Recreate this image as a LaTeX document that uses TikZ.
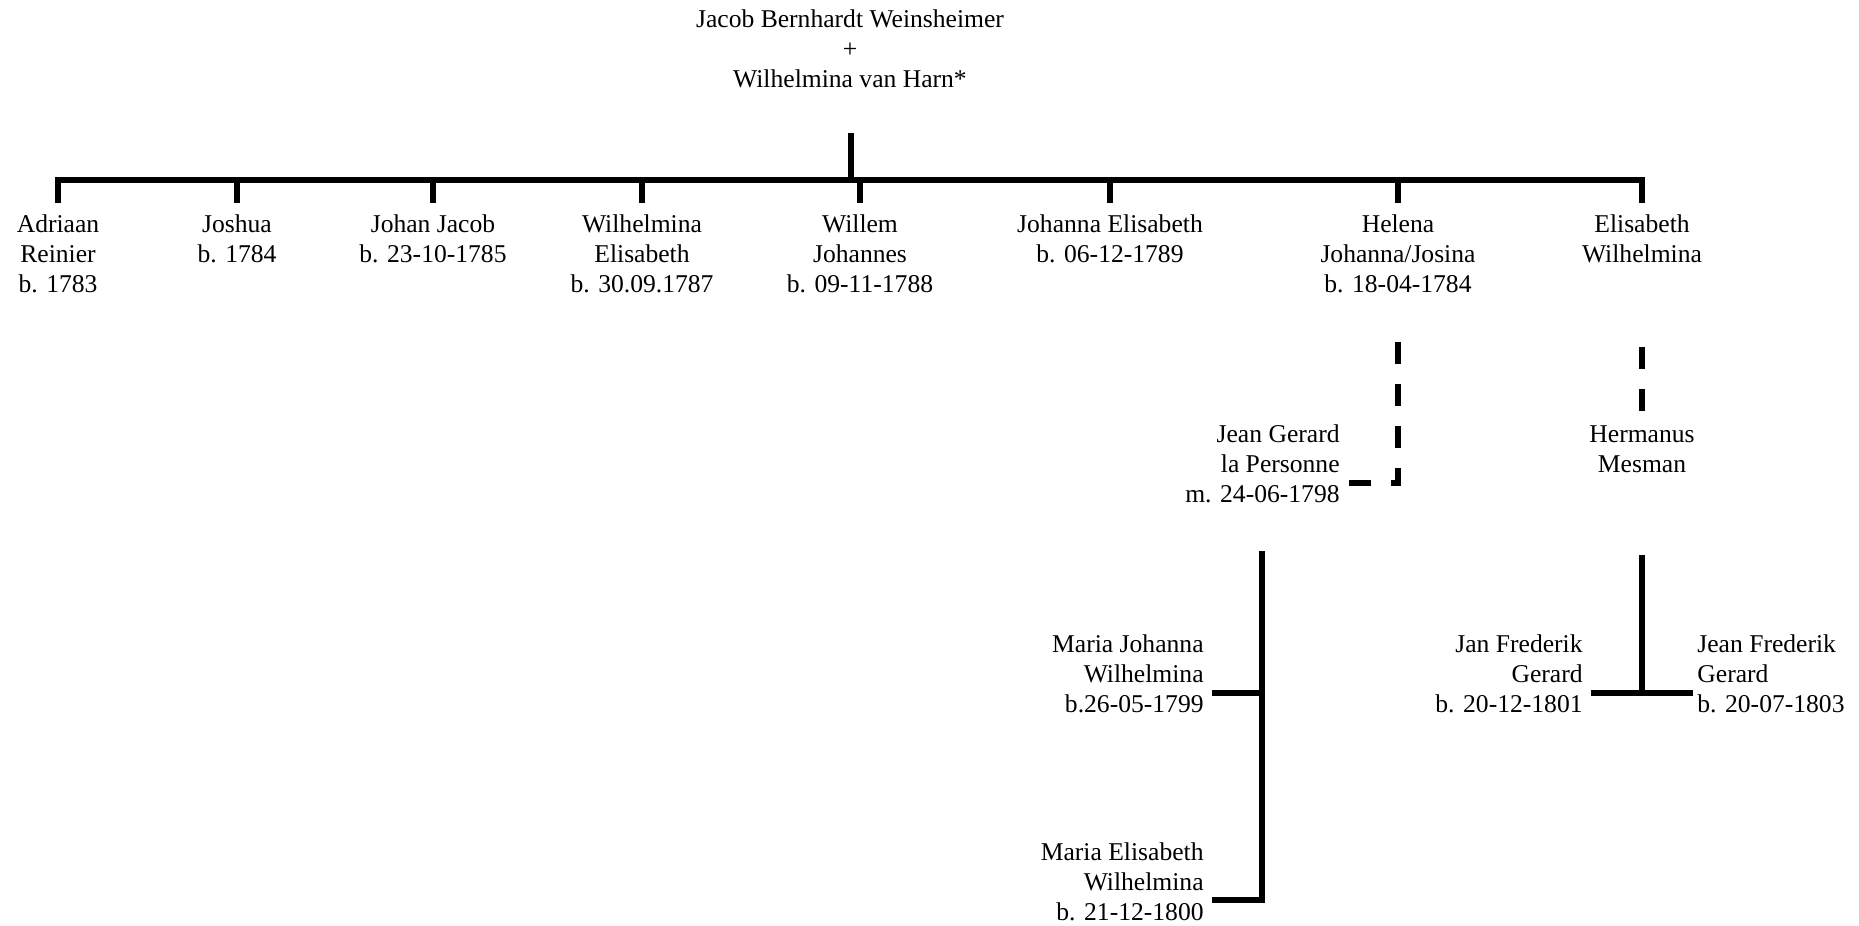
\documentclass[tikz,border=0pt]{standalone}
\usepackage{fontspec}
\setmainfont{Liberation Serif}
\newcommand\cellstack[2]{\begin{tabular}[t]{@{}#1@{}}#2\end{tabular}}
\begin{document}
\begin{tikzpicture}[x=0.5pt,y=-0.5pt,
  person/.style={inner ysep=0pt,inner xsep=4pt,anchor=base,
    font=\fontsize{12.8}{15}\selectfont},
  leftname/.style={person,anchor=base east},
  rightname/.style={person,anchor=base west,inner xsep=2pt},
  ln/.style={line width=3pt},
  marriage/.style={ln,dash pattern=on 11pt off 10pt}]
\useasboundingbox (0,0) rectangle (1859,926);

% parents
\node[person] (top) at (850,27) {\cellstack{c}{Jacob Bernhardt Weinsheimer\\+\\Wilhelmina van Harn*}};

% children
\node[person] (adr)     at (58,232)   {\cellstack{c}{Adriaan\\Reinier\\b. 1783}};
\node[person] (josh)    at (237,232)  {\cellstack{c}{Joshua\\b. 1784}};
\node[person] (jj)      at (433,232)  {\cellstack{c}{Johan Jacob\\b. 23-10-1785}};
\node[person] (wilh)    at (642,232)  {\cellstack{c}{Wilhelmina\\Elisabeth\\b. 30.09.1787}};
\node[person] (willem)  at (860,232)  {\cellstack{c}{Willem\\Johannes\\b. 09-11-1788}};
\node[person] (johanna) at (1110,232) {\cellstack{c}{Johanna Elisabeth\\b. 06-12-1789}};
\node[person] (helena)  at (1398,232) {\cellstack{c}{Helena\\Johanna/Josina\\b. 18-04-1784}};
\node[person] (elis)    at (1642,232) {\cellstack{c}{Elisabeth\\Wilhelmina}};

% spouses
\node[leftname] (jg)   at (1348,442) {\cellstack{r}{Jean Gerard\\la Personne\\m. 24-06-1798}};
\node[person]   (herm) at (1642,442) {\cellstack{c}{Hermanus\\Mesman}};

% grandchildren
\node[leftname]  (mj)  at (1212,652) {\cellstack{r}{Maria Johanna\\Wilhelmina\\b.26-05-1799}};
\node[leftname]  (me)  at (1212,860) {\cellstack{r}{Maria Elisabeth\\Wilhelmina\\b. 21-12-1800}};
\node[leftname]  (jf)  at (1591,652) {\cellstack{r}{Jan Frederik\\Gerard\\b. 20-12-1801}};
\node[rightname] (jef) at (1693,652) {\cellstack{l}{Jean Frederik\\Gerard\\b. 20-07-1803}};

% levels of the connectors
\coordinate (stemtop) at (851,133);
\coordinate (bar)     at (851,180);
\coordinate (dropend) at (0,203);
\coordinate (hmtop)   at (0,342);
\coordinate (hmy)     at (0,483);
\coordinate (emtop)   at (0,347);
\coordinate (emend)   at (0,412);
\coordinate (fam1)    at (1262,551);
\coordinate (fam2)    at (1642,555);
\coordinate (sib1)    at (0,693);
\coordinate (sib2)    at (0,900);

% parents to children
\draw[ln] (stemtop) -- (bar);
\draw[ln] (adr.north |- dropend) -- (adr.north |- bar) -- (elis.north |- bar) -- (elis.north |- dropend);
\foreach \n in {josh,jj,wilh,willem,johanna,helena}
  \draw[ln] (\n.north |- bar) -- (\n.north |- dropend);

% marriages
\draw[marriage] (helena.south |- hmtop) -- (helena.south |- hmy) -- (jg.east |- hmy);
\draw[marriage] (herm.north |- emtop) -- (herm.north |- emend);

% grandchildren
\draw[ln] (fam1) -- (fam1 |- sib2) -- (me.east |- sib2);
\draw[ln] (mj.east |- sib1) -- (fam1 |- sib1);
\draw[ln] (fam2) -- (fam2 |- sib1);
\draw[ln] (jf.east |- sib1) -- (jef.west |- sib1);
\end{tikzpicture}
\end{document}
